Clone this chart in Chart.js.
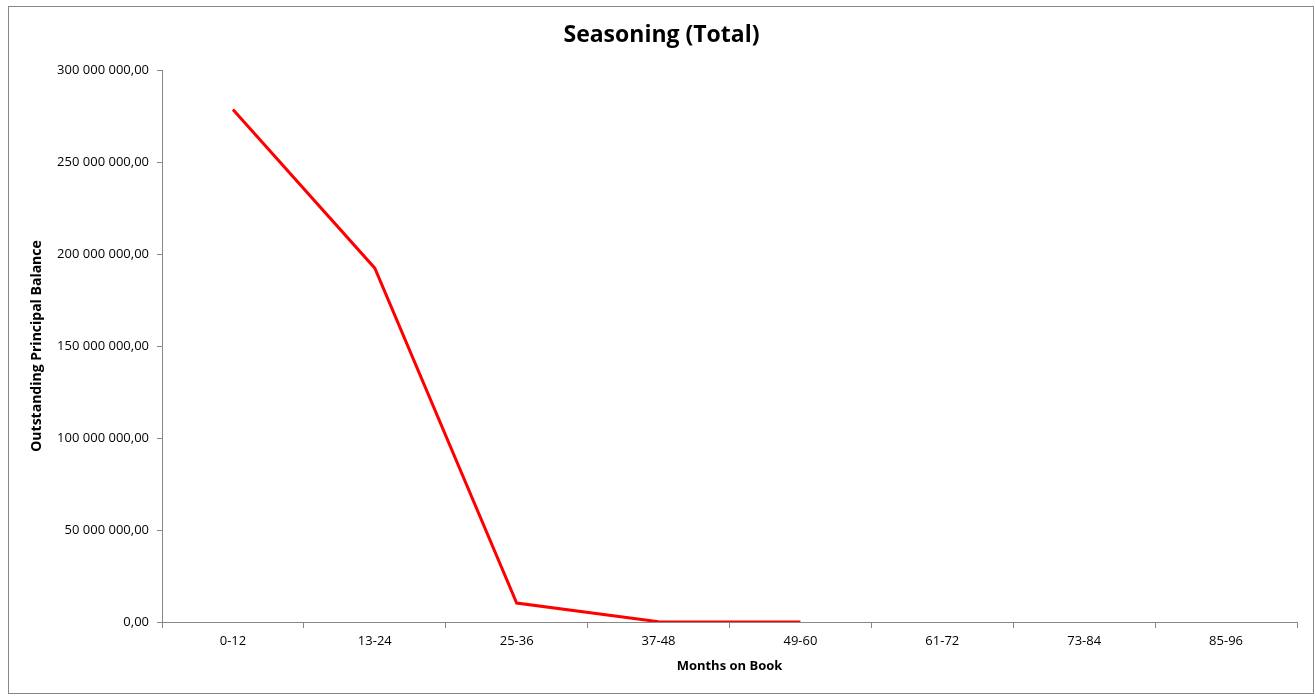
<!DOCTYPE html>
<html>
<head>
<meta charset="utf-8">
<script src="https://cdn.jsdelivr.net/npm/chart.js@4"></script>
<style>
  body { margin: 0; background: #fff; }
  #wrap { width: 1315px; height: 697px; }
</style>
</head>
<body>
<div id="wrap"><canvas id="chart"></canvas></div>
<script>
const categories = ['0-12', '13-24', '25-36', '37-48', '49-60', '61-72', '73-84', '85-96'];
const balances = [278500000, 192300000, 10300000, 150000, 30000, null, null, null];

const font = "'Open Sans', 'Liberation Sans', sans-serif";

function fmt(v) {
    const parts = Math.round(v).toString().replace(/\B(?=(\d{3})+(?!\d))/g, ' ');
    return parts + ',00';
}

const frame = {
    id: 'frame',
    afterDraw(chart) {
        const ctx = chart.ctx;
        ctx.save();
        ctx.strokeStyle = '#878787';
        ctx.lineWidth = 1;
        ctx.strokeRect(8.5, 6.5, 1305, 687);
        ctx.restore();
    },
};

const ctx = document.getElementById('chart').getContext('2d');
new Chart(ctx, {
    type: 'line',
    data: {
        labels: categories,
        datasets: [
            {
                label: 'Seasoning',
                data: balances,
                borderColor: '#ff0000',
                borderWidth: 3,
                pointRadius: 0,
                fill: false,
                tension: 0,
                spanGaps: false,
            },
        ],
    },
    options: {
        responsive: true,
        maintainAspectRatio: false,
        animation: false,
        layout: { padding: { left: 26, right: 18, top: 0, bottom: 0 } },
        plugins: {
            legend: { display: false },
            tooltip: { enabled: false },
            title: {
                display: true,
                text: 'Seasoning (Total)',
                color: '#000',
                font: { family: font, size: 23, weight: 'bold', lineHeight: 1.2 },
                padding: { top: 22, bottom: 20.4 },
            },
        },
        scales: {
            x: {
                offset: true,
                grid: { display: true, drawOnChartArea: false, offset: true, tickLength: 6, color: '#878787' },
                border: { color: '#878787' },
                ticks: { color: '#000', font: { family: font, size: 13 }, padding: 5, maxRotation: 0 },
                title: {
                    display: true,
                    text: 'Months on Book',
                    color: '#000',
                    font: { family: font, size: 13, weight: 'bold', lineHeight: 1.2 },
                    padding: { top: 4, bottom: 23 },
                },
                afterFit(scale) { scale.height = 75; },
            },
            y: {
                min: 0,
                max: 300000000,
                ticks: {
                    stepSize: 50000000,
                    color: '#000',
                    font: { family: font, size: 13 },
                    padding: 8,
                    callback: (v) => fmt(v),
                },
                grid: { display: true, drawOnChartArea: false, tickLength: 5, color: '#878787' },
                border: { color: '#878787' },
                title: {
                    display: true,
                    text: 'Outstanding Principal Balance',
                    color: '#000',
                    font: { family: font, size: 14, weight: 'bold', lineHeight: 1.2 },
                    padding: { top: 3, bottom: 0 },
                },
                afterFit(scale) { scale.width = 136; },
            },
        },
    },
    plugins: [frame],
});
</script>
</body>
</html>
